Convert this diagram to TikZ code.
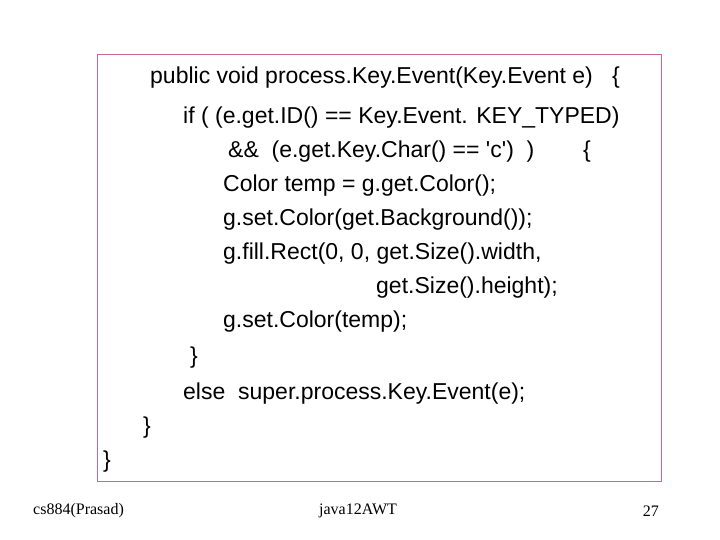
\documentclass[tikz,border=0pt]{standalone}
\usepackage{fontspec}
\setmainfont{Liberation Sans}
\newfontfamily\footfont{Liberation Serif}
\usepackage{tikz}
\definecolor{framepink}{RGB}{204,102,153}
\begin{document}
\begin{tikzpicture}[x=1pt,y=-1pt,
  code/.style={anchor=west, inner sep=0pt, font=\fontsize{23}{27}\selectfont},
  foot/.style={inner sep=0pt, font=\footfont\fontsize{16}{18}\selectfont}]
\useasboundingbox (0,0) rectangle (720,540);
\draw[framepink] (97,54) rectangle (661,481);

\node[code](l1) at (150,78) {public void process.Key.Event(Key.Event e)};
\node[code](b1) at (612,78) {\{};
\node[code](l2) at (183,118) {if ( (e.get.ID() == Key.Event. KEY\_TYPED)};
\node[code](l3) at (228,152) {\&\&~ (e.get.Key.Char() == \textquotesingle c\textquotesingle)~ )};
\node[code](b3) at (583,152) {\{};
\node[code](l4) at (223,186) {Color temp = g.get.Color();};
\node[code](l5) at (223,220) {g.set.Color(get.Background());};
\node[code](l6) at (223,254) {g.fill.Rect(0, 0, get.Size().width,};
\node[code](l7) at (376,288) {get.Size().height);};
\node[code](l8) at (223,322) {g.set.Color(temp);};
\node[code](l9) at (190,358) {\}};
\node[code](l10) at (183,394) {else~ super.process.Key.Event(e);};
\node[code](l11) at (143,428) {\}};
\node[code](l12) at (103,462) {\}};

\node[foot, anchor=west](fl) at (33,511) {cs884(Prasad)};
\node[foot](fc) at (358,511) {java12AWT};
\node[foot, anchor=east](fr) at (659,511) {27};
\end{tikzpicture}
\end{document}
